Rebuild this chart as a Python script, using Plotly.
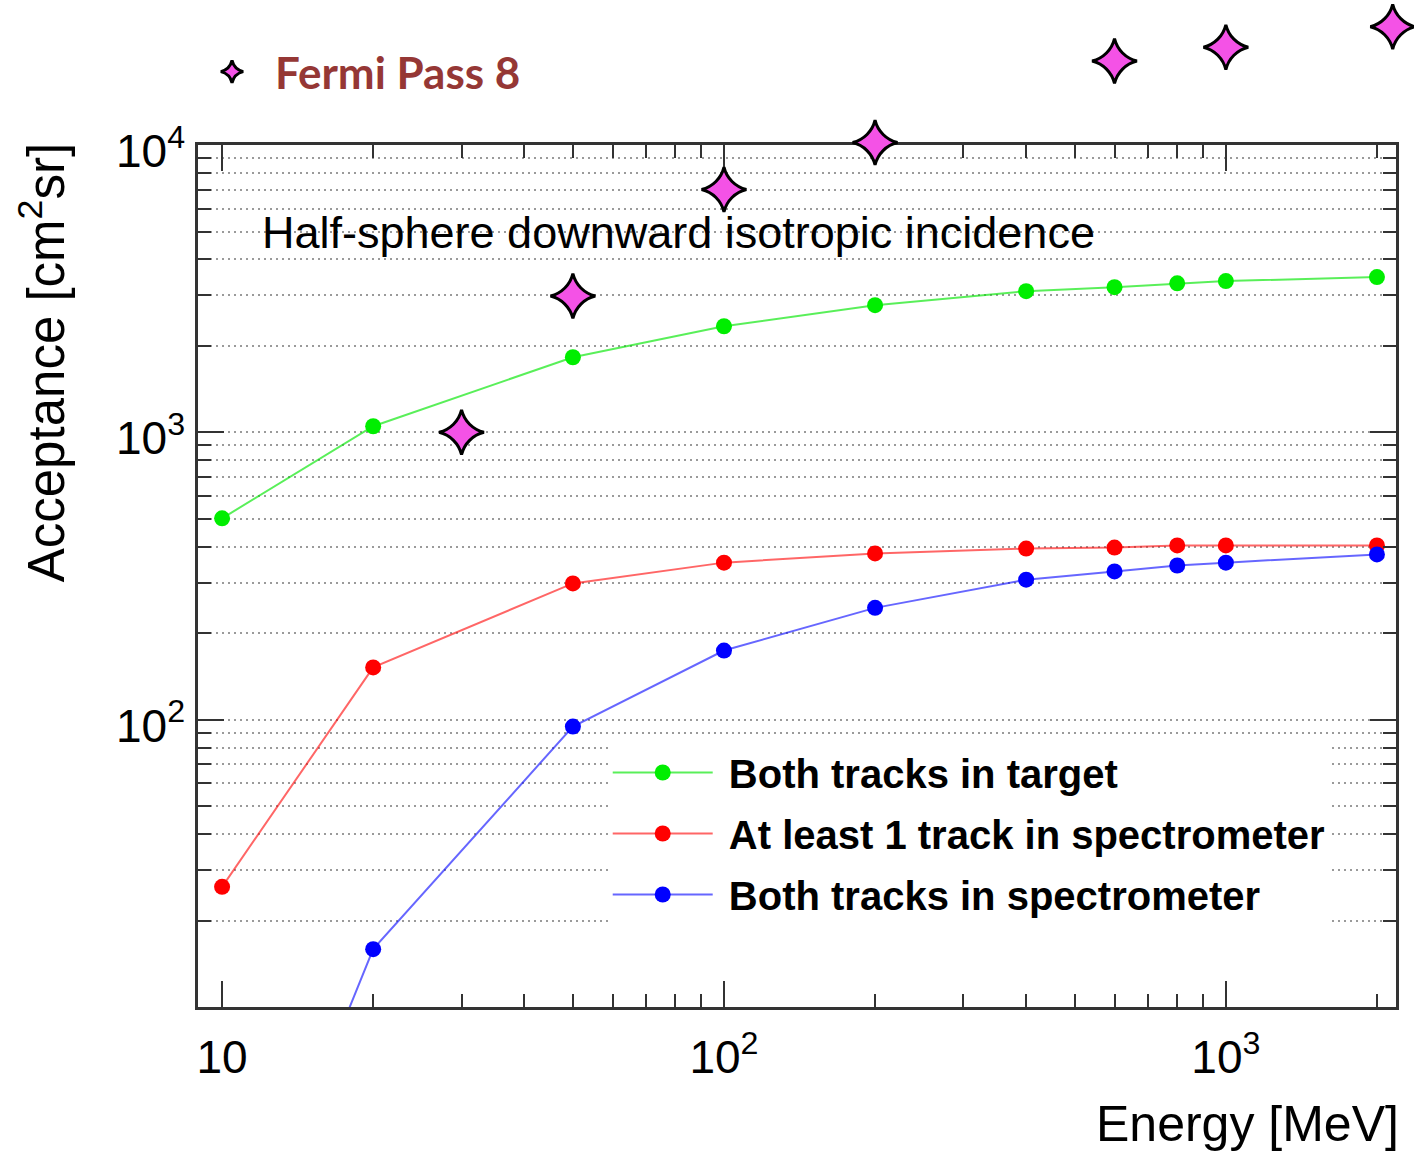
import plotly.graph_objects as go

# ---- data ----
energy = [10, 20, 50, 100, 200, 400, 600, 800, 1000, 2000]
both_in_target = [502, 1050, 1825, 2340, 2770, 3100, 3200, 3300, 3360, 3470]
at_least_one_spectro = [26.2, 152, 298, 352, 379, 394, 397, 404, 404, 404]
both_in_spectro = [0.8, 15.9, 94.6, 174, 245, 307, 328, 344, 352, 376]

fermi_energy = [30, 50, 100, 200, 600, 1000, 2150]
fermi_acceptance = [1000, 2980, 7000, 10200, 19600, 21900, 25800]

series_names = ["Both tracks in target", "At least 1 track in spectrometer", "Both tracks in spectrometer"]

x_tickvals = [10, 100, 1000]
x_ticktext = ["10", "10<sup>2</sup>", "10<sup>3</sup>"]
x_minor = [20, 30, 40, 50, 60, 70, 80, 90, 200, 300, 400, 500, 600, 700, 800, 900, 2000]
y_tickvals = [100, 1000, 10000]
y_ticktext = ["10<sup>2</sup>", "10<sup>3</sup>", "10<sup>4</sup>"]
y_minor = [20, 30, 40, 50, 60, 70, 80, 90, 200, 300, 400, 500, 600, 700, 800, 900,
           2000, 3000, 4000, 5000, 6000, 7000, 8000, 9000]

FONT = "Liberation Sans, Arial, Helvetica, sans-serif"

# ---- geometry ----
W, H = 1414, 1155
M_L, M_R, M_T, M_B = 198, 18, 0, 148
plot_h = H - M_T - M_B                 # 1007 px of plotting area
frame_h = 862                          # main frame height in px
y_range = [1, 4]
y_dom_top = frame_h / plot_h
y2_top = y_range[0] + (y_range[1] - y_range[0]) / y_dom_top   # same log scale, extended to the top


def py(pix):
    """paper y from pixel row"""
    return (H - M_B - pix) / plot_h


fig = go.Figure()
styles = [("#00ee00", "rgba(0,230,0,0.65)"), ("#ff0000", "rgba(255,0,0,0.6)"), ("#0000ff", "rgba(0,0,255,0.6)")]
for name, vals, (mc, lc) in zip(series_names, [both_in_target, at_least_one_spectro, both_in_spectro], styles):
    fig.add_trace(go.Scatter(
        x=energy, y=vals, name="\u00a0" + name, mode="lines+markers",
        line=dict(color=lc, width=2),
        marker=dict(color=mc, size=16),
        legendgroup=name, legend="legend",
    ))

fig.add_trace(go.Scatter(
    x=fermi_energy, y=fermi_acceptance, name="Fermi Pass 8", mode="markers",
    xaxis="x2", yaxis="y2",
    marker=dict(symbol="star-diamond", size=32, color="#f452e6", line=dict(color="black", width=3)),
    cliponaxis=False, legend="legend2",
))

axis_common = dict(
    type="log", showline=True, linecolor="#333333", linewidth=2.5, mirror="ticks",
    ticks="inside", tickcolor="#333333", tickwidth=1.5,
    tickfont=dict(family=FONT, size=46, color="black"),
    zeroline=False,
)

fig.update_layout(
    xaxis=dict(
        **axis_common, domain=[0, 1], anchor="y",
        range=[0.952, 3.339], tickmode="array", tickvals=x_tickvals, ticktext=x_ticktext,
        ticklen=26, showgrid=False, ticklabelstandoff=8,
        minor=dict(tickmode="array", tickvals=x_minor, ticks="inside", ticklen=13, tickwidth=1.5,
                   tickcolor="#333333", showgrid=False),
    ),
    yaxis=dict(
        **axis_common, domain=[0, y_dom_top], anchor="x",
        range=y_range, tickmode="array", tickvals=y_tickvals, ticktext=y_ticktext,
        ticklen=26, showgrid=True, gridcolor="#9a9a9a", gridwidth=1.5, griddash="2px,4px",
        ticklabelstandoff=1, ticklabelshift=6,
        minor=dict(tickmode="array", tickvals=y_minor, ticks="inside", ticklen=13, tickwidth=1.5,
                   tickcolor="#333333", showgrid=True, gridcolor="#9a9a9a", gridwidth=1.5,
                   griddash="2px,4px"),
    ),
    xaxis2=dict(type="log", matches="x", anchor="y2", domain=[0, 1], visible=False, showgrid=False),
    yaxis2=dict(type="log", range=[y_range[0], y2_top], anchor="x2", domain=[0, 1], visible=False,
                showgrid=False),
)

fig.update_layout(
    width=W, height=H,
    margin=dict(l=M_L, r=M_R, t=M_T, b=M_B, pad=0, autoexpand=False),
    plot_bgcolor="rgba(0,0,0,0)", paper_bgcolor="white",
    font=dict(family=FONT, color="black"),
    showlegend=True,
    legend=dict(
        x=0.342, y=py(740), xanchor="left", yanchor="top",
        bgcolor="white", borderwidth=0,
        font=dict(family=FONT, size=40, color="black", weight="bold"),
        traceorder="grouped", tracegroupgap=6, itemwidth=100,
    ),
    legend2=dict(
        x=-0.0075, y=py(72), xanchor="left", yanchor="middle",
        bgcolor="rgba(0,0,0,0)", borderwidth=0, itemwidth=76,
        font=dict(family="Lato, Open Sans, sans-serif", size=44, color="#953735", weight="bold"),
    ),
    annotations=[
        dict(text="Half-sphere downward isotropic incidence", xref="paper", yref="paper",
             x=0.0518, y=py(232), xanchor="left", yanchor="middle", showarrow=False,
             font=dict(family=FONT, size=45, color="black")),
        dict(text="Acceptance [cm<sup>2</sup>sr]", xref="paper", yref="paper",
             x=-0.130, y=py(363), xanchor="center", yanchor="middle", textangle=-90, showarrow=False,
             font=dict(family=FONT, size=51, color="black")),
        dict(text="Energy [MeV]", xref="paper", yref="paper",
             x=1.0, y=py(1124), xanchor="right", yanchor="middle", showarrow=False, xshift=4,
             borderpad=0, font=dict(family=FONT, size=50, color="black")),
    ],
)

fig.write_html("out.html")
